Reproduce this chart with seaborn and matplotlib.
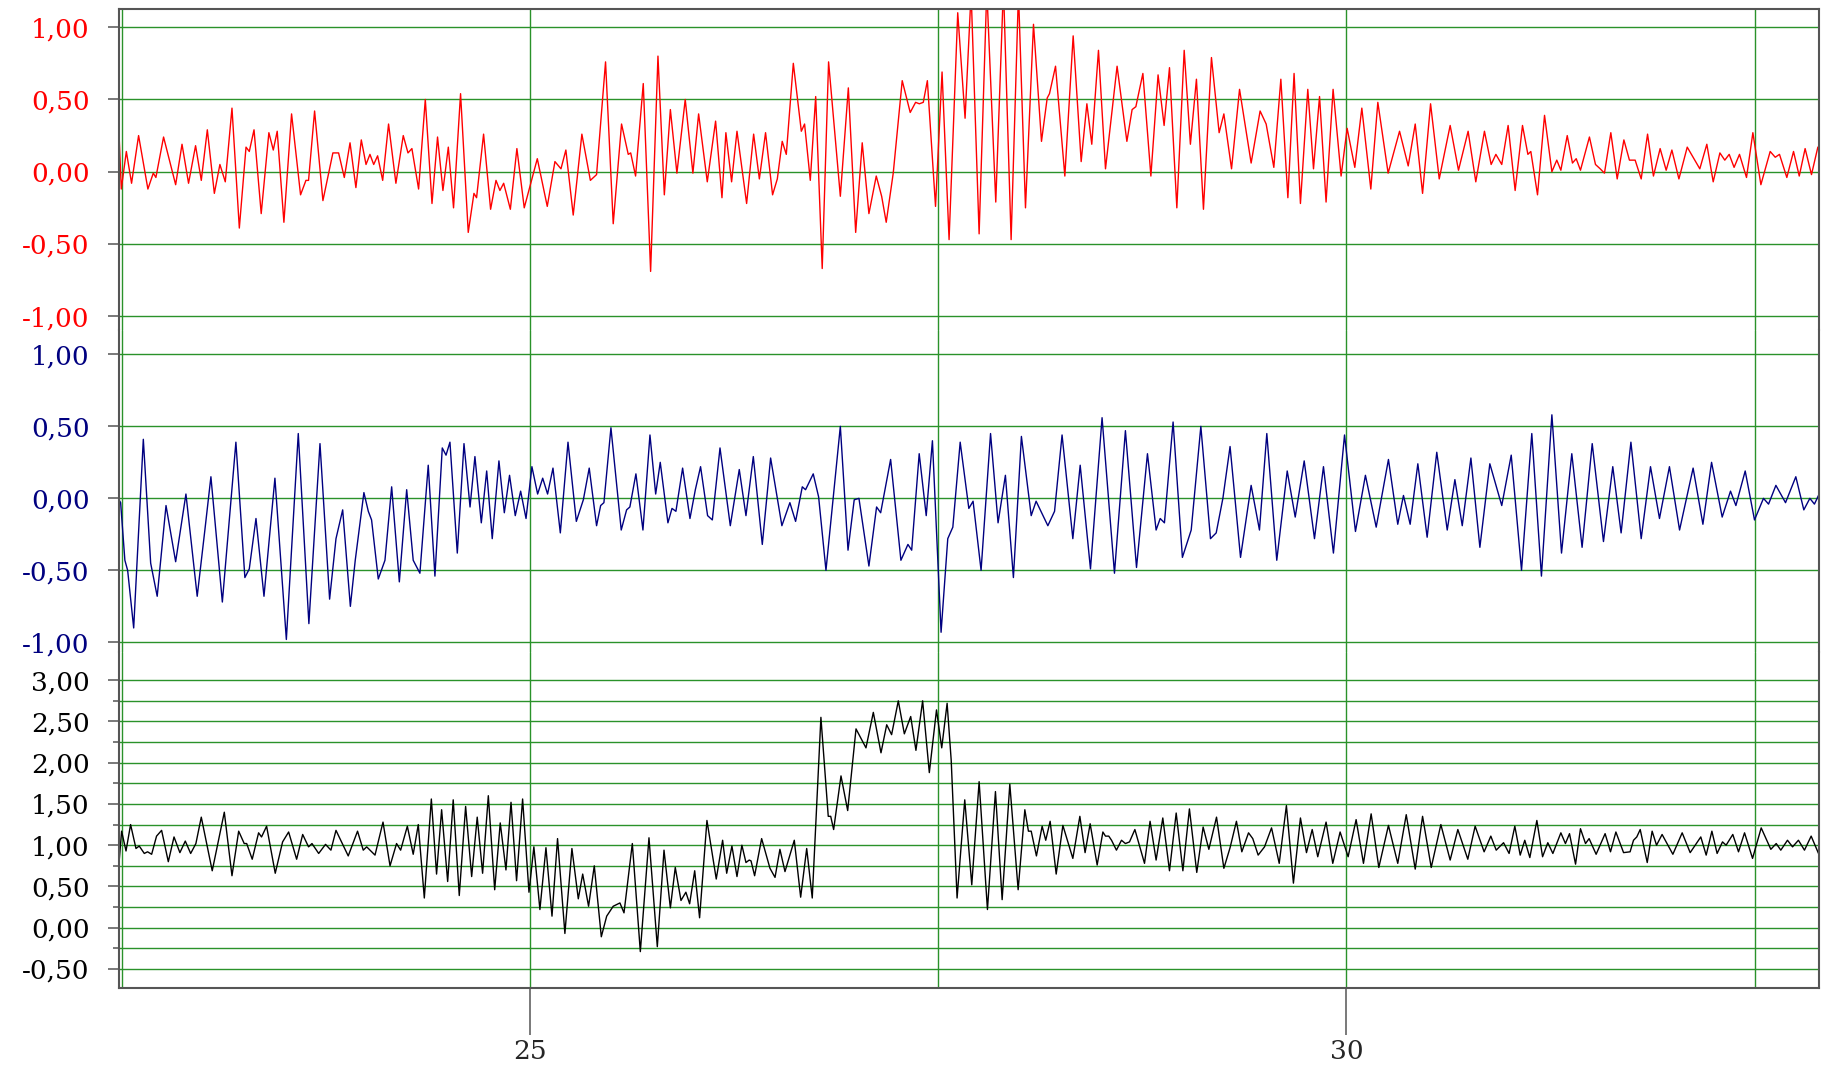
import matplotlib
matplotlib.use("Agg")
import matplotlib.pyplot as plt
from matplotlib.ticker import MultipleLocator, FixedLocator, FuncFormatter
import numpy as np
import seaborn as sns

# (time, value) turning points
red = [
    (22.483, 0.27), (22.497, -0.12), (22.528, 0.14), (22.560, -0.08), (22.603, 0.25), (22.660, -0.12),
    (22.693, -0.01), (22.709, -0.04), (22.756, 0.24), (22.830, -0.09), (22.869, 0.19), (22.909, -0.08),
    (22.952, 0.18), (22.987, -0.06), (23.024, 0.29), (23.067, -0.15), (23.101, 0.05), (23.134, -0.07),
    (23.175, 0.44), (23.220, -0.39), (23.261, 0.17), (23.281, 0.14), (23.310, 0.29), (23.354, -0.29),
    (23.401, 0.27), (23.428, 0.15), (23.452, 0.28), (23.493, -0.35), (23.540, 0.40), (23.595, -0.16),
    (23.628, -0.06), (23.644, -0.06), (23.681, 0.42), (23.732, -0.20), (23.793, 0.13), (23.828, 0.13),
    (23.863, -0.04), (23.898, 0.20), (23.934, -0.11), (23.967, 0.22), (23.996, 0.05), (24.020, 0.12),
    (24.043, 0.05), (24.067, 0.11), (24.098, -0.06), (24.134, 0.33), (24.179, -0.08), (24.224, 0.25),
    (24.253, 0.13), (24.277, 0.16), (24.318, -0.12), (24.359, 0.50), (24.400, -0.22), (24.434, 0.24),
    (24.467, -0.13), (24.500, 0.17), (24.532, -0.25), (24.575, 0.54), (24.622, -0.42),
    (24.657, -0.15), (24.673, -0.18), (24.716, 0.26), (24.759, -0.26), (24.792, -0.06), (24.816, -0.13),
    (24.839, -0.08), (24.880, -0.26), (24.920, 0.16), (24.965, -0.25), (25.045, 0.09), (25.106, -0.24),
    (25.153, 0.07), (25.190, 0.02), (25.220, 0.15), (25.265, -0.30), (25.318, 0.26), (25.370, -0.06),
    (25.408, -0.02), (25.463, 0.76), (25.510, -0.36), (25.561, 0.33), (25.602, 0.12), (25.617, 0.13),
    (25.647, -0.03), (25.694, 0.61), (25.739, -0.69), (25.784, 0.80), (25.823, -0.16), (25.860, 0.43),
    (25.900, -0.01), (25.951, 0.50), (25.998, -0.01), (26.033, 0.40), (26.086, -0.07), (26.137, 0.35),
    (26.176, -0.18), (26.200, 0.27), (26.235, -0.07), (26.268, 0.28), (26.327, -0.22), (26.370, 0.26),
    (26.405, -0.05), (26.443, 0.27), (26.486, -0.16), (26.515, -0.05), (26.545, 0.21), (26.570, 0.12),
    (26.613, 0.75), (26.662, 0.28), (26.682, 0.33), (26.717, -0.06), (26.750, 0.52), (26.790, -0.67),
    (26.829, 0.76), (26.901, -0.17), (26.950, 0.58), (26.995, -0.42), (27.035, 0.20), (27.076, -0.29),
    (27.121, -0.03), (27.154, -0.17), (27.182, -0.35), (27.225, -0.01), (27.280, 0.63), (27.329, 0.41),
    (27.362, 0.48), (27.385, 0.47), (27.409, 0.48), (27.434, 0.63),
    (27.484, -0.24), (27.524, 0.69), (27.567, -0.47), (27.620, 1.10), (27.665, 0.37), (27.702, 1.24),
    (27.751, -0.43), (27.798, 1.26), (27.853, -0.21), (27.900, 1.28), (27.947, -0.47), (27.992, 1.24),
    (28.035, -0.25), (28.084, 1.02), (28.133, 0.21), (28.168, 0.51), (28.182, 0.54), (28.219, 0.73),
    (28.276, -0.03), (28.327, 0.94), (28.376, 0.07), (28.411, 0.47), (28.441, 0.19), (28.482, 0.84),
    (28.525, 0.02), (28.596, 0.73), (28.656, 0.21), (28.688, 0.43), (28.711, 0.45), (28.754, 0.68),
    (28.803, -0.03), (28.847, 0.67), (28.884, 0.32), (28.917, 0.72), (28.962, -0.25), (29.007, 0.84),
    (29.045, 0.19), (29.082, 0.64), (29.125, -0.26), (29.174, 0.79), (29.221, 0.27), (29.250, 0.40),
    (29.297, 0.02), (29.346, 0.57), (29.417, 0.06), (29.472, 0.42), (29.509, 0.33), (29.556, 0.03),
    (29.599, 0.64), (29.642, -0.18), (29.680, 0.68), (29.719, -0.22), (29.764, 0.57), (29.799, 0.02),
    (29.836, 0.52), (29.876, -0.21), (29.919, 0.57), (29.968, -0.03), (30.005, 0.30), (30.052, 0.03),
    (30.095, 0.44), (30.150, -0.12), (30.193, 0.48),
    (30.256, -0.01), (30.326, 0.28), (30.379, 0.04), (30.422, 0.33), (30.467, -0.15), (30.516, 0.47),
    (30.569, -0.05), (30.636, 0.32), (30.687, 0.01), (30.746, 0.28), (30.793, -0.07), (30.846, 0.28),
    (30.887, 0.05), (30.916, 0.12), (30.952, 0.05), (30.991, 0.32), (31.034, -0.13), (31.079, 0.32),
    (31.112, 0.12), (31.130, 0.14), (31.171, -0.16), (31.214, 0.39), (31.259, 0.00), (31.289, 0.08),
    (31.314, 0.01), (31.353, 0.25), (31.385, 0.06), (31.408, 0.09), (31.434, 0.01), (31.489, 0.24),
    (31.526, 0.05), (31.555, 0.02), (31.581, -0.01), (31.620, 0.27), (31.659, -0.05), (31.700, 0.22),
    (31.734, 0.08), (31.769, 0.08), (31.806, -0.05), (31.845, 0.26), (31.881, -0.03), (31.922, 0.16),
    (31.959, 0.01), (31.994, 0.15), (32.037, -0.05), (32.088, 0.17), (32.165, 0.02), (32.208, 0.19),
    (32.247, -0.07), (32.288, 0.13), (32.318, 0.08), (32.345, 0.12), (32.375, 0.03), (32.408, 0.12),
    (32.451, -0.04), (32.490, 0.27), (32.539, -0.09), (32.596, 0.14), (32.627, 0.10), (32.653, 0.12),
    (32.698, -0.04), (32.739, 0.14), (32.774, -0.03), (32.810, 0.16), (32.849, -0.02), (32.888, 0.17),
    (32.896, 0.17),
]

blue = [
    (22.483, -0.01), (22.493, -0.03), (22.519, -0.43), (22.536, -0.50), (22.573, -0.90), (22.632, 0.41),
    (22.677, -0.45), (22.717, -0.68), (22.771, -0.05), (22.830, -0.44), (22.893, 0.03), (22.962, -0.68),
    (23.009, -0.22), (23.046, 0.15), (23.116, -0.72), (23.199, 0.39), (23.254, -0.55), (23.281, -0.49),
    (23.322, -0.14), (23.371, -0.68), (23.438, 0.14), (23.508, -0.98), (23.581, 0.45), (23.646, -0.87),
    (23.714, 0.38), (23.773, -0.70), (23.812, -0.28), (23.853, -0.08), (23.900, -0.75), (23.930, -0.43),
    (23.983, 0.04), (24.010, -0.09), (24.030, -0.15), (24.071, -0.56), (24.112, -0.43), (24.153, 0.08),
    (24.200, -0.58), (24.245, 0.06), (24.285, -0.43), (24.326, -0.52), (24.377, 0.23), (24.418, -0.54),
    (24.463, 0.35), (24.486, 0.30), (24.510, 0.39), (24.555, -0.38), (24.596, 0.38),
    (24.633, -0.06), (24.663, 0.29), (24.702, -0.17), (24.735, 0.19), (24.769, -0.28), (24.810, 0.26),
    (24.843, -0.10), (24.875, 0.16), (24.910, -0.12), (24.943, 0.05), (24.976, -0.14), (25.012, 0.22),
    (25.047, 0.03), (25.078, 0.14), (25.108, 0.03), (25.141, 0.21), (25.186, -0.24), (25.233, 0.39),
    (25.284, -0.16), (25.327, -0.01), (25.363, 0.21), (25.408, -0.19), (25.433, -0.05), (25.453, -0.03),
    (25.496, 0.49), (25.559, -0.22), (25.592, -0.08), (25.612, -0.06), (25.649, 0.17), (25.692, -0.22),
    (25.735, 0.44), (25.770, 0.03), (25.798, 0.25), (25.845, -0.17), (25.870, -0.07), (25.894, -0.09),
    (25.935, 0.21), (25.980, -0.14), (26.013, 0.06), (26.045, 0.22), (26.088, -0.12), (26.117, -0.15),
    (26.164, 0.35), (26.227, -0.19), (26.282, 0.20), (26.323, -0.12), (26.368, 0.29), (26.423, -0.32),
    (26.474, 0.28), (26.543, -0.19), (26.592, -0.03), (26.627, -0.16), (26.668, 0.08), (26.688, 0.06),
    (26.735, 0.17), (26.768, 0.01), (26.813, -0.50), (26.901, 0.50), (26.948, -0.36), (26.986, -0.01),
    (27.015, 0.00), (27.076, -0.47), (27.123, -0.06), (27.148, -0.10), (27.209, 0.27), (27.272, -0.43),
    (27.315, -0.32), (27.338, -0.36),
    (27.384, 0.31), (27.427, -0.12), (27.465, 0.40), (27.518, -0.93), (27.559, -0.28), (27.590, -0.20),
    (27.635, 0.39), (27.688, -0.07), (27.714, -0.02), (27.763, -0.50), (27.821, 0.45), (27.867, -0.17),
    (27.912, 0.16), (27.961, -0.55), (28.010, 0.43), (28.070, -0.12), (28.100, -0.02), (28.172, -0.19),
    (28.213, -0.09), (28.259, 0.44), (28.325, -0.28), (28.370, 0.23), (28.433, -0.49), (28.504, 0.56),
    (28.580, -0.52), (28.647, 0.47), (28.715, -0.48), (28.782, 0.31), (28.835, -0.22), (28.860, -0.14),
    (28.886, -0.17), (28.939, 0.53), (28.996, -0.41), (29.050, -0.22), (29.109, 0.50), (29.168, -0.28),
    (29.203, -0.24), (29.244, 0.00), (29.288, 0.36), (29.352, -0.41), (29.417, 0.09), (29.468, -0.22),
    (29.513, 0.45), (29.574, -0.43), (29.638, 0.19), (29.687, -0.13), (29.742, 0.26), (29.805, -0.28),
    (29.860, 0.22), (29.921, -0.38), (29.989, 0.44), (30.056, -0.23), (30.117, 0.16),
    (30.183, -0.20), (30.258, 0.27), (30.315, -0.18), (30.350, 0.02), (30.391, -0.18), (30.438, 0.24),
    (30.495, -0.27), (30.554, 0.32), (30.618, -0.22), (30.665, 0.13), (30.710, -0.19), (30.763, 0.28),
    (30.818, -0.34), (30.879, 0.24), (30.952, -0.05), (31.010, 0.30), (31.073, -0.50), (31.136, 0.45),
    (31.195, -0.54), (31.259, 0.58), (31.318, -0.38), (31.381, 0.31), (31.444, -0.34), (31.506, 0.38),
    (31.575, -0.30), (31.632, 0.22), (31.683, -0.24), (31.743, 0.39), (31.806, -0.28), (31.863, 0.22),
    (31.918, -0.14), (31.979, 0.22), (32.041, -0.22), (32.124, 0.21), (32.184, -0.18), (32.237, 0.25),
    (32.302, -0.13), (32.353, 0.05), (32.386, -0.05), (32.443, 0.19), (32.500, -0.15), (32.555, 0.00),
    (32.586, -0.04), (32.631, 0.09), (32.690, -0.03), (32.753, 0.15), (32.802, -0.08), (32.839, 0.00),
    (32.867, -0.04), (32.896, 0.03),
]

black = [
    (22.483, 0.78), (22.499, 1.17), (22.526, 0.93), (22.554, 1.25), (22.587, 0.96), (22.607, 0.99),
    (22.638, 0.90), (22.658, 0.92), (22.683, 0.89), (22.713, 1.11), (22.744, 1.18), (22.785, 0.80),
    (22.820, 1.10), (22.856, 0.91), (22.889, 1.05), (22.922, 0.90), (22.954, 1.02), (22.987, 1.34),
    (23.054, 0.69), (23.128, 1.40), (23.175, 0.63), (23.216, 1.17), (23.250, 1.02), (23.265, 1.02),
    (23.299, 0.83), (23.338, 1.15), (23.356, 1.10), (23.387, 1.23), (23.440, 0.66), (23.485, 1.04),
    (23.522, 1.16), (23.571, 0.83), (23.608, 1.13), (23.644, 0.98), (23.665, 1.02), (23.706, 0.90),
    (23.748, 1.01), (23.781, 0.94), (23.812, 1.18), (23.887, 0.87), (23.944, 1.17), (23.979, 0.94),
    (24.000, 0.98), (24.051, 0.88), (24.100, 1.28), (24.143, 0.75), (24.183, 1.02), (24.208, 0.94),
    (24.249, 1.23), (24.285, 0.89), (24.316, 1.25), (24.353, 0.36), (24.396, 1.56), (24.428, 0.65),
    (24.459, 1.43), (24.496, 0.56), (24.530, 1.55), (24.567, 0.39), (24.606, 1.47),
    (24.643, 0.62), (24.677, 1.34), (24.710, 0.66), (24.745, 1.60), (24.784, 0.46), (24.818, 1.27),
    (24.853, 0.70), (24.884, 1.52), (24.918, 0.57), (24.955, 1.56), (24.994, 0.43), (25.024, 0.98),
    (25.061, 0.22), (25.098, 0.97), (25.135, 0.14), (25.169, 1.08), (25.214, -0.07), (25.257, 0.96),
    (25.296, 0.35), (25.323, 0.65), (25.359, 0.26), (25.394, 0.75), (25.437, -0.11), (25.470, 0.14),
    (25.510, 0.26), (25.551, 0.30), (25.576, 0.18), (25.627, 1.02), (25.676, -0.29), (25.729, 1.09),
    (25.780, -0.23), (25.821, 0.94), (25.860, 0.24), (25.890, 0.73), (25.925, 0.33), (25.955, 0.43),
    (25.978, 0.29), (26.009, 0.69), (26.039, 0.12), (26.084, 1.30), (26.141, 0.59), (26.180, 1.06),
    (26.205, 0.66), (26.237, 0.99), (26.268, 0.62), (26.298, 1.00), (26.323, 0.79), (26.343, 0.82),
    (26.354, 0.81), (26.376, 0.63), (26.419, 1.08), (26.470, 0.72), (26.501, 0.61), (26.531, 0.95),
    (26.562, 0.68), (26.619, 1.06), (26.658, 0.37), (26.695, 0.96), (26.729, 0.36), (26.782, 2.55),
    (26.827, 1.35), (26.842, 1.35), (26.860, 1.19), (26.905, 1.84), (26.946, 1.42), (26.997, 2.41),
    (27.058, 2.18), (27.103, 2.61), (27.150, 2.12), (27.185, 2.46), (27.215, 2.34), (27.256, 2.75),
    (27.293, 2.35), (27.332, 2.56), (27.364, 2.15), (27.405, 2.75), (27.446, 1.88),
    (27.490, 2.64), (27.522, 2.18), (27.555, 2.72), (27.580, 2.03), (27.616, 0.36), (27.663, 1.55),
    (27.706, 0.52), (27.751, 1.77), (27.802, 0.22), (27.851, 1.65), (27.892, 0.34), (27.939, 1.74),
    (27.990, 0.46), (28.031, 1.43), (28.053, 1.17), (28.070, 1.17), (28.102, 0.87), (28.137, 1.23),
    (28.159, 1.06), (28.186, 1.29), (28.223, 0.65), (28.264, 1.24), (28.325, 0.84), (28.368, 1.35),
    (28.400, 0.91), (28.431, 1.26), (28.474, 0.76), (28.509, 1.16), (28.525, 1.11), (28.545, 1.11),
    (28.562, 1.06), (28.592, 0.94), (28.623, 1.06), (28.647, 1.02), (28.672, 1.04), (28.705, 1.19),
    (28.764, 0.78), (28.798, 1.29), (28.835, 0.82), (28.876, 1.33), (28.917, 0.69), (28.958, 1.39),
    (28.999, 0.69), (29.039, 1.44), (29.084, 0.67), (29.123, 1.22), (29.158, 0.95), (29.205, 1.34),
    (29.250, 0.72), (29.288, 0.97), (29.327, 1.29), (29.360, 0.92), (29.401, 1.15), (29.427, 1.08),
    (29.460, 0.88), (29.499, 0.98), (29.542, 1.21), (29.589, 0.78), (29.633, 1.48), (29.676, 0.54),
    (29.719, 1.33), (29.756, 0.91), (29.791, 1.19), (29.825, 0.86), (29.876, 1.28), (29.917, 0.78),
    (29.962, 1.16), (30.011, 0.86), (30.060, 1.31), (30.105, 0.78), (30.152, 1.38), (30.199, 0.73),
    (30.258, 1.24), (30.315, 0.78), (30.367, 1.37), (30.422, 0.71), (30.467, 1.35), (30.520, 0.73),
    (30.579, 1.25), (30.636, 0.82), (30.683, 1.19), (30.744, 0.83), (30.789, 1.23), (30.844, 0.92),
    (30.885, 1.11), (30.918, 0.94), (30.963, 1.03), (30.997, 0.90), (31.032, 1.23), (31.065, 0.88),
    (31.093, 1.06), (31.124, 0.85), (31.167, 1.30), (31.202, 0.86), (31.234, 1.03), (31.265, 0.90),
    (31.314, 1.15), (31.342, 1.02), (31.367, 1.14), (31.404, 0.77), (31.434, 1.20), (31.465, 1.02),
    (31.487, 1.08), (31.530, 0.89), (31.585, 1.14), (31.618, 0.92), (31.651, 1.16), (31.698, 0.91),
    (31.738, 0.92), (31.759, 1.06), (31.779, 1.10), (31.800, 1.19), (31.843, 0.79), (31.873, 1.17),
    (31.900, 1.00), (31.934, 1.13), (32.000, 0.89), (32.057, 1.15), (32.106, 0.91), (32.171, 1.10),
    (32.204, 0.88), (32.239, 1.17), (32.271, 0.90), (32.304, 1.04), (32.326, 1.00), (32.367, 1.13),
    (32.402, 0.92), (32.439, 1.15), (32.488, 0.84), (32.541, 1.21), (32.600, 0.95), (32.633, 1.02),
    (32.661, 0.94), (32.702, 1.06), (32.733, 0.98), (32.769, 1.06), (32.806, 0.94), (32.847, 1.11),
    (32.892, 0.90),
]

x_range = (22.483, 32.895)

sns.set_style("white")
plt.rcParams["font.family"] = ["DejaVu Serif", "Liberation Serif"]

grid_green = "#2a922a"
frame = "#555555"


def comma(v, pos):
    return f"{v + 0.0:.2f}".replace(".", ",")


fig = plt.figure(figsize=(18.27, 10.66), dpi=100)
left, width = 0.06513, 0.93049
ax_top = fig.add_axes([left, 0.69043, width, 0.30113])
ax_mid = fig.add_axes([left, 0.38837, width, 0.30206])
ax_bot = fig.add_axes([left, 0.07317, width, 0.31520])

panels = [
    (ax_top, red, "#ff0000", (-1.0955, 1.126)),
    (ax_mid, blue, "#000080", (-1.067, 1.169)),
    (ax_bot, black, "#000000", (-0.731, 3.342)),
]

for ax, pts, col, ylim in panels:
    t, v = zip(*pts)
    sns.lineplot(x=list(t), y=list(v), ax=ax, color=col, lw=1.0,
                 sort=False, estimator=None)
    ax.set_xlim(*x_range)
    ax.set_ylim(*ylim)
    ax.set_xlabel("")
    ax.set_ylabel("")
    ax.yaxis.set_major_locator(MultipleLocator(0.5))
    ax.yaxis.set_major_formatter(FuncFormatter(comma))
    ax.xaxis.set_major_locator(MultipleLocator(5))
    ax.xaxis.set_minor_locator(MultipleLocator(2.5))
    ax.grid(True, which="both", axis="x", color=grid_green, lw=1.0)
    ax.grid(True, which="major", axis="y", color=grid_green, lw=1.0)
    ax.tick_params(axis="y", which="major", left=True, length=8, width=1.1,
                   color=frame, pad=13, labelsize=19, labelcolor=col)
    ax.tick_params(axis="x", which="both", length=0, labelbottom=False)
    for s in ax.spines.values():
        s.set_color(frame)
        s.set_linewidth(1.5)

ax_top.spines["bottom"].set_visible(False)
ax_mid.spines["top"].set_visible(False)
ax_mid.spines["bottom"].set_visible(False)
ax_bot.spines["top"].set_visible(False)

# bottom panel: quarter steps and the time axis
ax_bot.yaxis.set_minor_locator(FixedLocator(np.arange(-0.25, 3.0, 0.5)))
ax_bot.grid(True, which="minor", axis="y", color=grid_green, lw=1.0)
ax_bot.tick_params(axis="y", which="minor", left=True, length=4, width=1.1, color=frame)
ax_bot.tick_params(axis="x", which="major", bottom=True, length=34, width=1.1,
                   color=frame, labelbottom=True, labelsize=19, pad=3)

fig.savefig("out.png", dpi=100)
